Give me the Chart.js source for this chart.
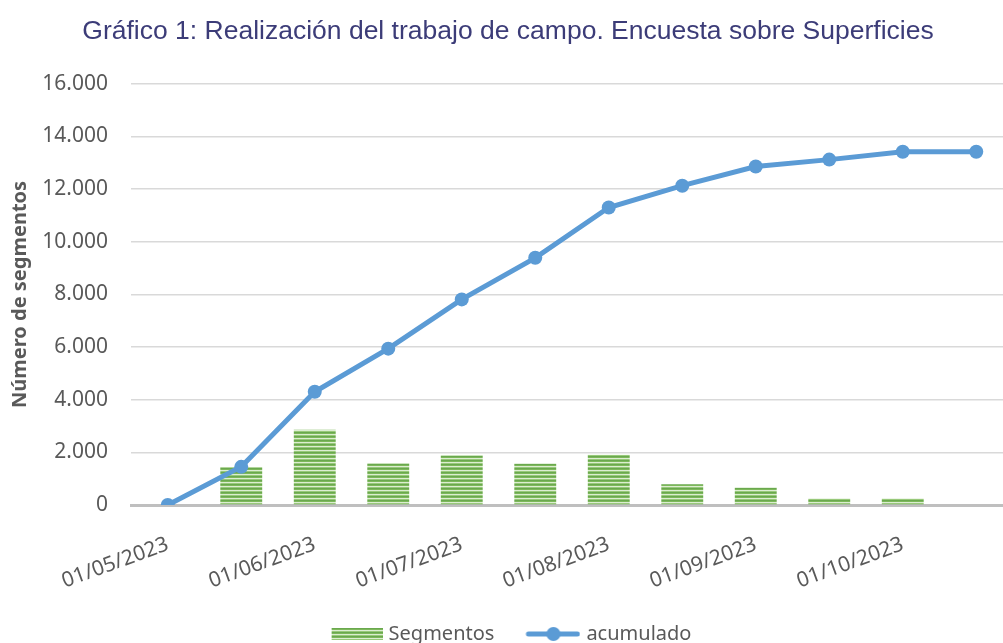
<!DOCTYPE html>
<html>
<head>
<meta charset="utf-8">
<script src="https://cdn.jsdelivr.net/npm/chart.js@4/dist/chart.umd.min.js"></script>
<style>
  html, body { margin: 0; padding: 0; background: #fff; overflow: hidden; }
  #wrap { width: 1020px; height: 643px; }
</style>
</head>
<body>
<div id="wrap"><canvas id="chart"></canvas></div>
<script>
// Fechas de la encuesta (cada quincena)
const fechas = [
  "01/05/2023", "15/05/2023", "01/06/2023", "15/06/2023",
  "01/07/2023", "15/07/2023", "01/08/2023", "15/08/2023",
  "01/09/2023", "15/09/2023", "01/10/2023", "15/10/2023"
];
// Segmentos realizados en cada periodo
const segmentos = [0, 1430, 2860, 1580, 1880, 1570, 1910, 790, 660, 250, 250, 0];
// Total acumulado
const acumulado = [0, 1450, 4300, 5940, 7810, 9390, 11300, 12130, 12860, 13120, 13420, 13420];
const yTicks = [0, 2000, 4000, 6000, 8000, 10000, 12000, 14000, 16000];

const BLUE = "#5B9BD5";
const TEXT = "#595959";
const BOX_W = 54;

// horizontal stripe pattern like Excel's "narrow horizontal"
function stripePattern() {
  const c = document.createElement("canvas");
  c.width = 4; c.height = 4;
  const g = c.getContext("2d");
  const rows = ["#6AA84F", "#7DB85A", "#DCEDD2", "#98C97A"];
  rows.forEach((col, i) => { g.fillStyle = col; g.fillRect(0, i, 4, 1); });
  return g.createPattern(c, "repeat");
}

// legend swatches: canvas a bit wider than the box so the mark sits close to the text
function barSwatch() {
  const c = document.createElement("canvas");
  c.width = BOX_W + 8; c.height = 12;
  const g = c.getContext("2d");
  g.fillStyle = stripePattern();
  g.fillRect(c.width - 51, 0, 51, 12);
  return c;
}

function lineSwatch() {
  const c = document.createElement("canvas");
  c.width = BOX_W + 8; c.height = 16;
  const g = c.getContext("2d");
  g.strokeStyle = BLUE; g.lineWidth = 5; g.lineCap = "round";
  g.beginPath(); g.moveTo(c.width - 52, 8); g.lineTo(c.width - 3, 8); g.stroke();
  g.fillStyle = BLUE;
  g.beginPath(); g.arc(c.width - 27, 8, 7, 0, Math.PI * 2); g.fill();
  return c;
}

const fmt = (v) => v.toString().replace(/\B(?=(\d{3})+(?!\d))/g, ".");

const ctx = document.getElementById("chart").getContext("2d");
new Chart(ctx, {
  data: {
    labels: fechas,
    datasets: [
      {
        type: "bar",
        label: "Segmentos",
        data: segmentos,
        backgroundColor: stripePattern(),
        categoryPercentage: 1,
        barPercentage: 0.57,
        order: 2,
      },
      {
        type: "line",
        label: "acumulado",
        data: acumulado,
        borderColor: BLUE,
        backgroundColor: BLUE,
        borderWidth: 5,
        pointRadius: 7,
        pointHoverRadius: 7,
        pointBackgroundColor: BLUE,
        pointBorderWidth: 0,
        tension: 0,
        order: 1,
      },
    ],
  },
  options: {
    responsive: true,
    maintainAspectRatio: false,
    animation: false,
    layout: { padding: { left: 0, right: 4, top: 0, bottom: -11 } },
    plugins: {
      tooltip: { enabled: false },
      title: {
        display: true,
        text: "Gráfico 1: Realización del trabajo de campo. Encuesta sobre Superficies",
        color: "#3C3C78",
        font: { family: "Liberation Sans", size: 26.5, weight: "normal" },
        padding: { top: 16, bottom: 36 },
      },
      legend: {
        position: "bottom",
        labels: {
          usePointStyle: true,
          pointStyleWidth: BOX_W,
          padding: 28,
          color: TEXT,
          font: { family: "Noto Sans", size: 20 },
          generateLabels: (chart) => [
            { text: "Segmentos", pointStyle: barSwatch(), fontColor: TEXT, datasetIndex: 0, lineWidth: 0, strokeStyle: "transparent" },
            { text: "acumulado", pointStyle: lineSwatch(), fontColor: TEXT, datasetIndex: 1, lineWidth: 0, strokeStyle: "transparent" },
          ],
        },
      },
    },
    scales: {
      x: {
        grid: { display: false, drawTicks: false },
        border: { display: true, color: "#BFBFBF", width: 3 },
        ticks: {
          autoSkip: false,
          minRotation: 20,
          maxRotation: 20,
          padding: 27,
          color: TEXT,
          font: { family: "Noto Sans", size: 21 },
          callback: function (val, i) { return i % 2 === 0 ? fechas[i] : ""; },
        },
        afterFit: (scale) => { scale.height = 91; },
      },
      y: {
        min: 0,
        max: 16000,
        afterBuildTicks: (scale) => { scale.ticks = yTicks.map((v) => ({ value: v })); },
        grid: { color: "#D9D9D9", lineWidth: 1.5, drawTicks: false },
        border: { display: false },
        ticks: {
          padding: 23,
          color: TEXT,
          font: { family: "Noto Sans", size: 21 },
          callback: (v) => fmt(v),
        },
        title: {
          display: true,
          text: "Número de segmentos",
          color: TEXT,
          font: { family: "Noto Sans", size: 20, weight: "bold" },
          padding: { top: 8, bottom: 0 },
        },
        afterFit: (scale) => { scale.width = 131; },
      },
    },
  },
});
</script>
</body>
</html>
